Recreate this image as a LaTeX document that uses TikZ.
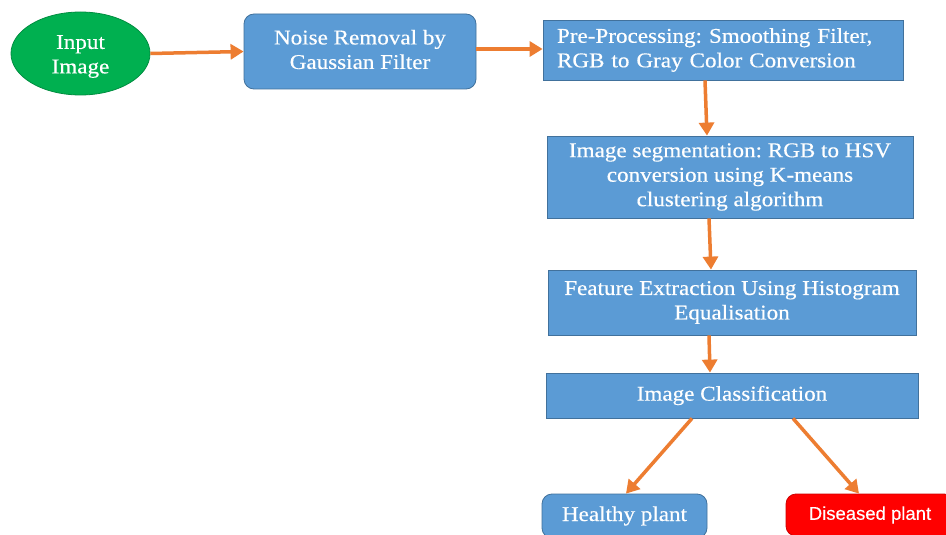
\documentclass[tikz,border=0pt]{standalone}
\usepackage{fontspec}
\setmainfont{Liberation Serif}[FakeStretch=1.1,FakeBold=0.4]
\newfontfamily\arialfont{Liberation Sans}[FakeBold=0.3]
\usetikzlibrary{arrows.meta,shapes.geometric}
\frenchspacing
\definecolor{boxblue}{HTML}{5B9BD5}
\definecolor{boxedge}{HTML}{41719C}
\definecolor{okgreen}{HTML}{00B050}
\definecolor{arrorange}{HTML}{ED7D31}
\definecolor{badred}{HTML}{FF0000}
\tikzset{
  every node/.style={font=\fontsize{21}{24.5}\selectfont, text=white},
  bluebox/.style={draw=boxedge, line width=0.8pt, fill=boxblue, align=center, inner sep=0pt},
  roundbox/.style={bluebox, rounded corners=10pt},
  flow/.style={draw=arrorange, line width=3.5pt, -{Triangle[length=13pt,width=15pt]}}
}
\begin{document}
\begin{tikzpicture}[x=1pt,y=-1pt]
\useasboundingbox (0,0) rectangle (946,535);
\clip (0,0) rectangle (946,535);
\fill[white] (0,0) rectangle (946,535);
\node[ellipse, draw=okgreen!80!black, line width=0.8pt, fill=okgreen, minimum width=139pt, minimum height=83pt, inner sep=0pt] (input) at (80.5,53.5) {};
\node[align=center, inner sep=0pt] (inputtxt) at (80.5,56.5) {Input\\Image};
\node[roundbox, minimum width=232pt, minimum height=75pt] (noise) at (360,51.5) {};
\node[align=center, inner sep=0pt] (noisetxt) at (360,49.5) {Noise Removal by\\Gaussian Filter};
\node[bluebox, text width=332pt, inner xsep=14pt, minimum height=60pt, align=left] (pre) at (723,50) {Pre-Processing: Smoothing Filter,\\RGB to Gray Color Conversion};
\node[bluebox, minimum width=366pt, minimum height=82pt] (seg) at (730,177) {Image segmentation: RGB to HSV\\conversion using K-means\\clustering algorithm};
\node[bluebox, minimum width=368pt, minimum height=65pt] (feat) at (732,302.5) {Feature Extraction Using Histogram\\Equalisation};
\node[bluebox, minimum width=372pt, minimum height=45pt] (cls) at (732,395.5) {Image Classification};
\node[roundbox, minimum width=165pt, minimum height=44pt] (healthy) at (624.5,516) {Healthy plant};
\node[draw=badred!80!black, line width=0.8pt, fill=badred, rounded corners=10pt, minimum width=168pt, minimum height=42pt, inner sep=0pt, font=\arialfont\fontsize{18.5}{22}\selectfont] (diseased) at (870,515) {Diseased plant};
\draw[flow] (input.east) -- (noise.west);
\draw[flow] (noise.east |- 0,49) -- (pre.west |- 0,49);
\draw[flow] (pre.south -| 705,0) -- (seg.north -| 707,0);
\draw[flow] (seg.south -| 709,0) -- (feat.north -| 711,0);
\draw[flow] (feat.south -| 709,0) -- (cls.north -| 710,0);
\draw[flow] (cls.south -| 692,0) -- (healthy.north -| 626,0);
\draw[flow] (cls.south -| 793,0) -- (diseased.north -| 859,0);
\end{tikzpicture}
\end{document}
